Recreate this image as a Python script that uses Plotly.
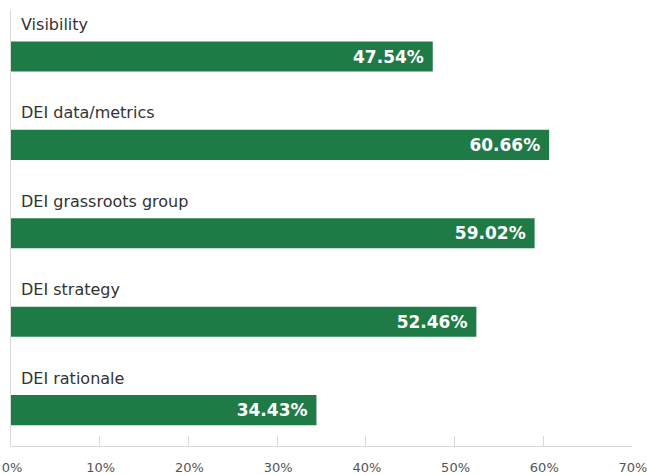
import plotly.graph_objects as go

categories = ["Visibility", "DEI data/metrics", "DEI grassroots group", "DEI strategy", "DEI rationale"]
values = [47.54, 60.66, 59.02, 52.46, 34.43]
tick_vals = [0, 10, 20, 30, 40, 50, 60, 70]
tick_text = ["0%", "10%", "20%", "30%", "40%", "50%", "60%", "70%"]

GREEN = "#1e7b46"
AXIS_GREY = "#d9d9d9"
FONT = "DejaVu Sans, sans-serif"

positions = list(range(len(categories)))

fig = go.Figure(
    go.Bar(
        x=values,
        y=positions,
        orientation="h",
        width=0.34,
        marker=dict(color=GREEN, line=dict(width=0)),
        text=[f"{v:.2f}%\u00a0" for v in values],
        textposition="inside",
        insidetextanchor="end",
        textangle=0,
        textfont=dict(color="white", size=17, family=FONT, weight="bold"),
        constraintext="none",
        hoverinfo="skip",
    )
)

# Category names sit just above each bar, aligned to the left edge
for p, name in zip(positions, categories):
    fig.add_annotation(
        x=0, y=p, xref="x", yref="y",
        text=name, showarrow=False,
        xanchor="left", yanchor="middle",
        xshift=8, yshift=32,
        font=dict(size=16, color="#333333", family=FONT),
    )

fig.update_layout(
    width=647, height=475,
    margin=dict(l=11, r=15, t=10, b=29, autoexpand=False),
    plot_bgcolor="white", paper_bgcolor="white",
    showlegend=False,
    xaxis=dict(
        range=[0, 70],
        tickvals=tick_vals, ticktext=tick_text,
        showgrid=False, zeroline=False,
        showline=True, linecolor=AXIS_GREY, linewidth=1,
        ticks="inside", ticklen=10, tickcolor=AXIS_GREY,
        tickfont=dict(size=13, color="#555555", family=FONT),
        ticklabelstandoff=9,
        ticklabelshift=1,
        ticklabeloverflow="allow",
        automargin=False,
    ),
    yaxis=dict(
        range=[4.406, -0.526],
        showticklabels=False, showgrid=False, zeroline=False,
        showline=True, linecolor=AXIS_GREY, linewidth=1,
        ticks="",
        automargin=False,
    ),
)

fig.write_html("out.html")
